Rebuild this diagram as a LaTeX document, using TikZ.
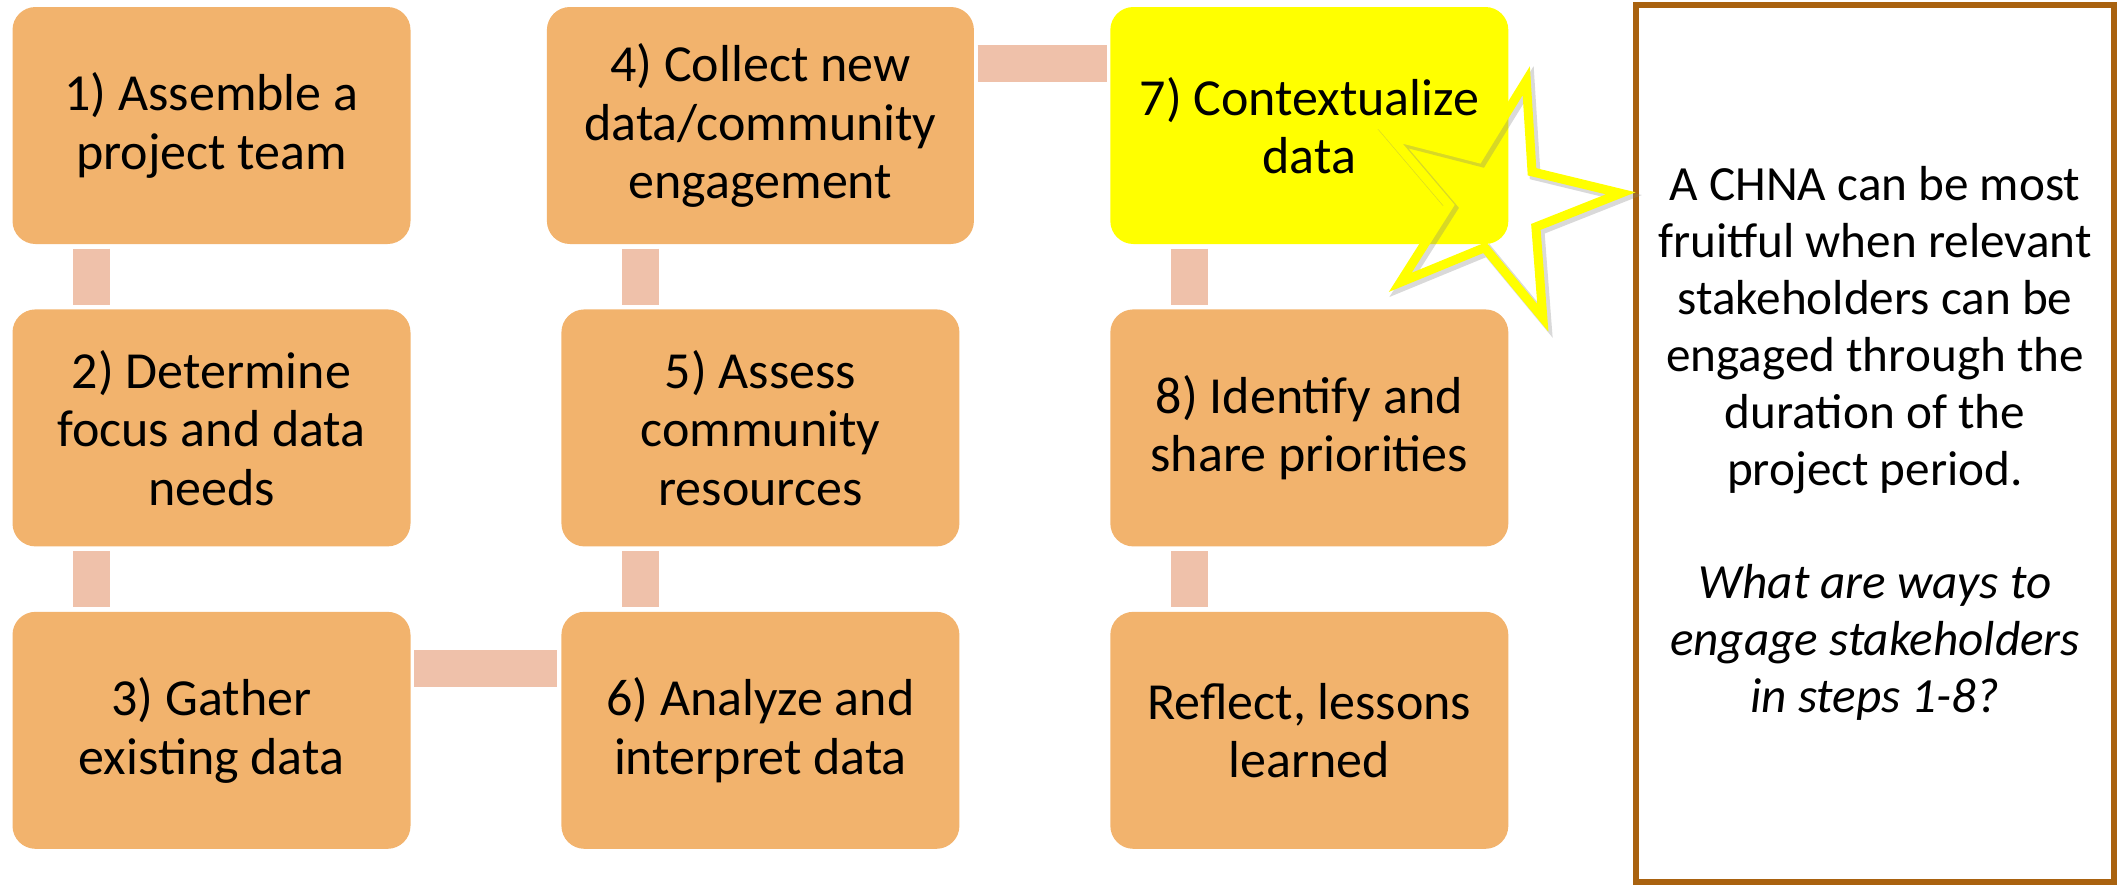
\documentclass[tikz,border=0pt]{standalone}
\usepackage{fontspec}
\setmainfont{Carlito}
\usetikzlibrary{positioning}
\definecolor{stepfill}{HTML}{F2B36D}
\definecolor{linkfill}{HTML}{EFC1AA}
\definecolor{notebrown}{HTML}{A9620F}
\definecolor{hilite}{HTML}{FFFF00}
\begin{document}
\begin{tikzpicture}[
	stepbox/.style = {fill = stepfill, rounded corners = 0.23cm, minimum width = 3.98cm, minimum height = 2.37cm, inner sep = 0pt, align = center, font = \fontsize{14.8}{16.6}\selectfont},
	link/.style = {draw = linkfill, line width = 0.37cm},
	node distance = 0.64cm and 1.35cm
	]
	\useasboundingbox (0,0) rectangle (21.17,8.85);
	\node [stepbox] (s1) at (2.115,7.595) {1) Assemble a\\project team};
	\node [stepbox, below = of s1] (s2) {2) Determine\\focus and data\\needs};
	\node [stepbox, below = of s2] (s3) {3) Gather\\existing data};
	\node [stepbox, minimum width = 4.27cm, right = of s1] (s4) {4) Collect new\\data/community\\engagement};
	\node [stepbox, below = of s4] (s5) {5) Assess\\community\\resources};
	\node [stepbox, below = of s5] (s6) {6) Analyze and\\interpret data};
	\node [stepbox, fill = hilite, right = of s4] (s7) {7) Contextualize\\data};
	\node [stepbox, below = of s7] (s8) {8) Identify and\\share priorities};
	\node [stepbox, below = of s8] (s9) {Reflect, lessons\\learned};
	\draw [link] ([xshift = 0.8cm, yshift = -0.04cm] s1.south west) -- ([xshift = 0.8cm, yshift = 0.04cm] s2.north west);
	\draw [link] ([xshift = 0.8cm, yshift = -0.04cm] s2.south west) -- ([xshift = 0.8cm, yshift = 0.04cm] s3.north west);
	\draw [link] ([xshift = 0.8cm, yshift = 0.6cm] s5.north west) -- ([xshift = 0.8cm, yshift = 0.04cm] s5.north west);
	\draw [link] ([xshift = 0.8cm, yshift = -0.04cm] s5.south west) -- ([xshift = 0.8cm, yshift = 0.04cm] s6.north west);
	\draw [link] ([xshift = 0.8cm, yshift = -0.04cm] s7.south west) -- ([xshift = 0.8cm, yshift = 0.04cm] s8.north west);
	\draw [link] ([xshift = 0.8cm, yshift = -0.04cm] s8.south west) -- ([xshift = 0.8cm, yshift = 0.04cm] s9.north west);
	\draw [link] ([xshift = 0.03cm, yshift = -0.575cm] s3.north east) -- ([xshift = -0.04cm, yshift = -0.575cm] s6.north west);
	\draw [link] ([xshift = 0.03cm, yshift = -0.575cm] s4.north east) -- ([xshift = -0.03cm, yshift = -0.575cm] s7.north west);
	\node [draw = notebrown, line width = 0.06cm, minimum width = 4.78cm, minimum height = 8.77cm, inner sep = 0pt, align = center, font = \fontsize{14}{16.2}\selectfont] (note) at (18.75,4.415) {A CHNA can be most\\fruitful when relevant\\stakeholders can be\\engaged through the\\duration of the\\project period.\\[16.2pt]\textit{What are ways to}\\\textit{engage stakeholders}\\\textit{in steps 1-8?}};
	\coordinate (burst) at (14.96,6.83);
	\draw [gray, opacity = 0.3, line width = 0.11cm, shift = {(burst)}, xshift = 0.03cm, yshift = -0.03cm] (4:1.25) \foreach \k in {1,...,9} {-- ({4+36*\k}:{isodd(\k) ? 0.47 : 1.25})} -- cycle;
	\draw [hilite, line width = 0.09cm, shift = {(burst)}] (4:1.25) \foreach \k in {1,...,9} {-- ({4+36*\k}:{isodd(\k) ? 0.47 : 1.25})} -- cycle;
\end{tikzpicture}
\end{document}
